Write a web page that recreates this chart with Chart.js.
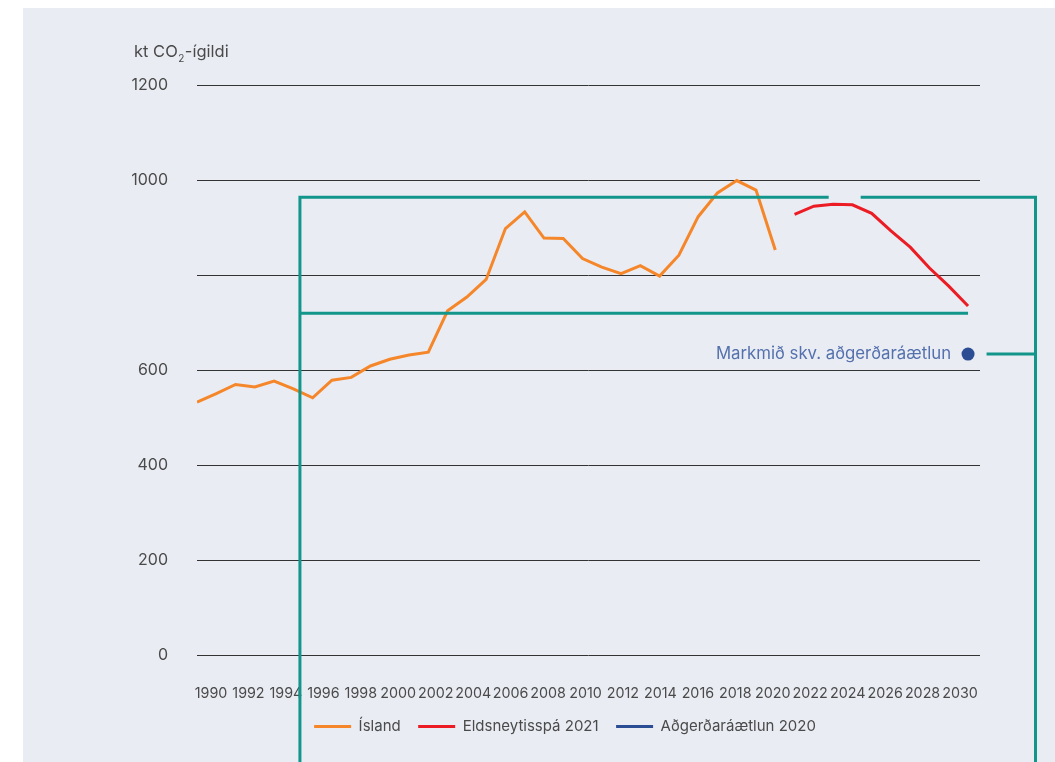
<!DOCTYPE html>
<html><head><meta charset="utf-8">
<script src="https://cdn.jsdelivr.net/npm/chart.js@4"></script>
<style>
html,body{margin:0;padding:0;background:#fff;}
#wrap{position:absolute;left:23px;top:8px;width:1032px;height:754px;overflow:hidden;background:#e9ecf3;}
canvas{display:block;}
</style></head><body>
<div id="wrap"><canvas id="c" width="1084" height="754"></canvas></div>
<script>
// ---- data ----
const islandYears = [1990,1991,1992,1993,1994,1995,1996,1997,1998,1999,2000,2001,2002,2003,2004,2005,2006,2007,2008,2009,2010,2011,2012,2013,2014,2015,2016,2017,2018,2019,2020];
const islandValues = [533,551,570,565,577,561,542,579,585,609,623,632,638,725,754,791,898,933,878,877,835,817,803,820,798,842,923,973,999,979,853];
const forecastYears = [2021,2022,2023,2024,2025,2026,2027,2028,2029,2030];
const forecastValues = [928,945,949,948,930,893,859,815,777,735];
const targetYears = [2030];
const targetValues = [634];
const xTickYears = [1990,1992,1994,1996,1998,2000,2002,2004,2006,2008,2010,2012,2014,2016,2018,2020,2022,2024,2026,2028,2030];
const yTickValues = [0,200,400,600,800,1000,1200];
const yTickLabels = ['0','200','400','600','','1000','1200'];
const seriesNames = ['Ísland','Eldsneytisspá 2021','Aðgerðaráætlun 2020'];
const targetLabel = 'Markmið skv. aðgerðaráætlun';
const axisTitleParts = ['kt CO','2','-ígildi'];

// ---- decorative frame (in data units) ----
const frame = {xLeft:1995.34, xRight:2033.5, gapFrom:2022.77, gapTo:2024.43, yTop:964, yLow:720, lowEnd:2030, tickFrom:2030.96};

const toXY = (xs, ys) => xs.map((v,i)=>({x:v, y:ys[i]}));

const overlay = {
  id:'overlay',
  afterDraw(chart){
    const {ctx, scales:{x,y}} = chart;
    const X = v=>x.getPixelForValue(v), Y = v=>y.getPixelForValue(v);
    ctx.save();
    // axis title
    ctx.fillStyle='#4a4a4a'; ctx.textAlign='left'; ctx.textBaseline='alphabetic';
    let tx=111, ty=49;
    ctx.font='16.5px Inter';
    ctx.fillText(axisTitleParts[0],tx,ty); tx+=ctx.measureText(axisTitleParts[0]).width+0.5;
    ctx.font='10px Inter';
    ctx.fillText(axisTitleParts[1],tx,ty+5); tx+=ctx.measureText(axisTitleParts[1]).width+0.5;
    ctx.font='16.5px Inter';
    ctx.fillText(axisTitleParts[2],tx,ty);
    // target label
    const px = X(targetYears[0]), py = Y(targetValues[0]);
    ctx.font='16.8px Inter'; ctx.fillStyle='#5470ad'; ctx.textAlign='right'; ctx.textBaseline='middle';
    ctx.fillText(targetLabel, px-17, py);
    // teal frame
    const H = chart.height;
    ctx.strokeStyle='#12958a'; ctx.lineWidth=3; ctx.lineCap='butt';
    ctx.beginPath();
    ctx.moveTo(X(frame.xLeft),H); ctx.lineTo(X(frame.xLeft),Y(frame.yTop)); ctx.lineTo(X(frame.gapFrom),Y(frame.yTop));
    ctx.moveTo(X(frame.gapTo),Y(frame.yTop)); ctx.lineTo(X(frame.xRight),Y(frame.yTop)); ctx.lineTo(X(frame.xRight),H);
    ctx.moveTo(X(frame.xLeft),Y(frame.yLow)); ctx.lineTo(X(frame.lowEnd),Y(frame.yLow));
    ctx.moveTo(X(frame.tickFrom),Y(targetValues[0])); ctx.lineTo(X(frame.xRight),Y(targetValues[0]));
    ctx.stroke();
    ctx.restore();
  }
};

function draw(){
  Chart.defaults.font.family = 'Inter';
  Chart.defaults.color = '#4a4a4a';
  new Chart(document.getElementById('c'), {
    type:'line',
    data:{datasets:[
      {label:seriesNames[0], data:toXY(islandYears,islandValues), borderColor:'#f5872a', backgroundColor:'#f5872a', borderWidth:3, pointRadius:0, tension:0},
      {label:seriesNames[1], data:toXY(forecastYears,forecastValues), borderColor:'#ec1c24', backgroundColor:'#ec1c24', borderWidth:3, pointRadius:0, tension:0},
      {label:seriesNames[2], data:toXY(targetYears,targetValues), borderColor:'#2b4d94', backgroundColor:'#2b4d94', borderWidth:0, pointRadius:6.5, pointBackgroundColor:'#2b4d94', showLine:false}
    ]},
    options:{
      responsive:false, animation:false, devicePixelRatio:1,
      layout:{padding:{top:77,bottom:18,left:0,right:0}},
      plugins:{
        tooltip:{enabled:false},
        legend:{position:'bottom', align:'center',
          labels:{boxWidth:37, boxHeight:3, padding:17.5, color:'#4a4a4a', font:{size:15},
            generateLabels: ch => Chart.defaults.plugins.legend.labels.generateLabels(ch).map(i=>({...i, lineWidth:0}))}}
      },
      scales:{
        x:{type:'linear', display:false, min:1990, max:2030.62},
        xl:{type:'linear', position:'bottom', min:1989.252, max:2031.068,
          afterBuildTicks: s => { s.ticks = xTickYears.map(v=>({value:v})); },
          grid:{display:false, drawTicks:false}, border:{display:false},
          ticks:{autoSkip:false, maxRotation:0, minRotation:0, padding:30, font:{size:14.3}, color:'#4a4a4a', callback:v=>String(v)},
          afterFit: s => { s.height = 46; }},
        y:{type:'linear', position:'left', min:0, max:1200,
          afterBuildTicks: s => { s.ticks = yTickValues.map(v=>({value:v})); },
          grid:{color:'#333', lineWidth:1, drawTicks:false}, border:{display:false},
          ticks:{padding:29, font:{size:16}, color:'#4a4a4a', callback:v=>yTickLabels[yTickValues.indexOf(v)]},
          afterFit: s => { s.width = 174; }},
        yr:{type:'linear', position:'right', min:0, max:1200, grid:{display:false, drawTicks:false}, border:{display:false},
          ticks:{display:false}, afterFit: s => { s.width = 127; }}
      }
    },
    plugins:[overlay]
  });
}
document.fonts.load('16px Inter').then(draw, draw);
</script>
</body></html>
